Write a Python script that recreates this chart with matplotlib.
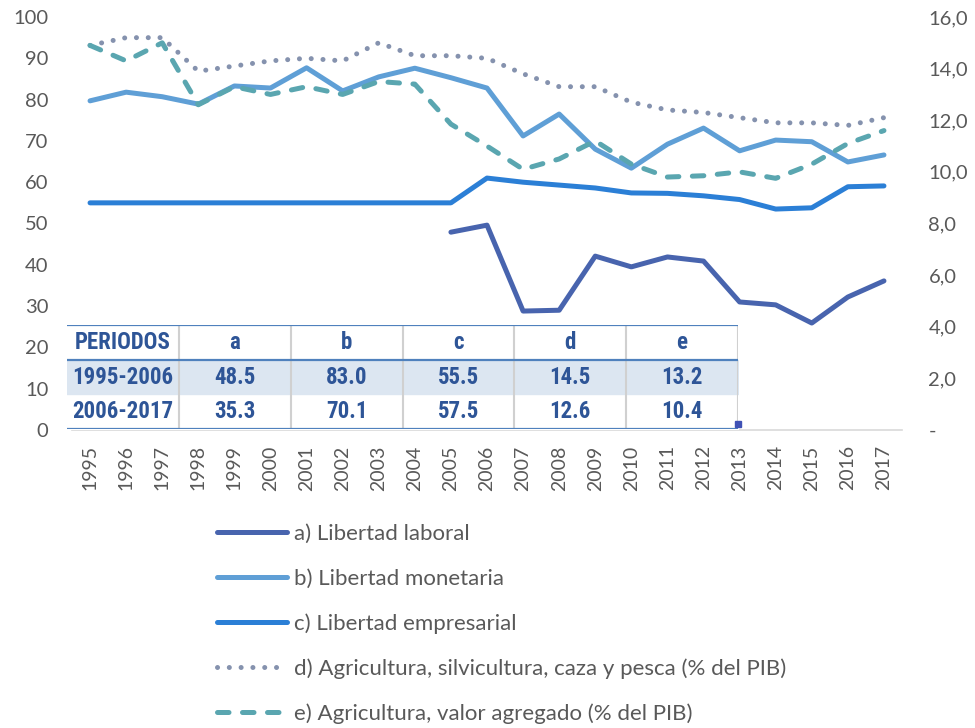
import numpy as np
import matplotlib
matplotlib.use("Agg")
import matplotlib.pyplot as plt
from matplotlib.lines import Line2D
from matplotlib.ticker import FuncFormatter

# years on the x axis
years = [str(y) for y in range(1995, 2018)]

# left axis series (index 0-100)
libertad_laboral = [None, None, None, None, None, None, None, None, None, None,
                    47.9, 49.6, 28.8, 29.0, 42.1, 39.5, 41.9, 40.9, 31.0, 30.3, 25.9, 32.2, 36.1]
libertad_monetaria = [79.7, 81.8, 80.7, 78.9, 83.3, 82.8, 87.7, 82.1, 85.5, 87.6,
                      85.3, 82.8, 71.2, 76.5, 68.0, 63.4, 69.2, 73.1, 67.6, 70.2, 69.8, 64.9, 66.6]
libertad_empresarial = [55.0, 55.0, 55.0, 55.0, 55.0, 55.0, 55.0, 55.0, 55.0, 55.0,
                        55.0, 61.0, 60.0, 59.3, 58.6, 57.4, 57.3, 56.7, 55.8, 53.5, 53.8, 58.9, 59.1]

# right axis series (% del PIB)
agri_silvi = [14.9, 15.2, 15.2, 13.9, 14.1, 14.3, 14.4, 14.3, 15.0, 14.5,
              14.5, 14.4, 13.8, 13.3, 13.3, 12.7, 12.4, 12.3, 12.1, 11.9, 11.9, 11.8, 12.1]
agri_valor = [14.9, 14.3, 15.0, 12.6, 13.3, 13.0, 13.3, 13.0, 13.5, 13.4,
              11.85, 11.0, 10.1, 10.5, 11.2, 10.3, 9.8, 9.85, 10.0, 9.75, 10.3, 11.1, 11.6]

labels = ["a) Libertad laboral", "b) Libertad monetaria", "c) Libertad empresarial",
          "d) Agricultura, silvicultura, caza y pesca (% del PIB)",
          "e) Agricultura, valor agregado (% del PIB)"]

# summary table
table_header = ["PERIODOS", "a", "b", "c", "d", "e"]
table_rows = [["1995-2006", "48.5", "83.0", "55.5", "14.5", "13.2"],
              ["2006-2017", "35.3", "70.1", "57.5", "12.6", "10.4"]]

c_a = "#4864AE"
c_b = "#5F9FD6"
c_c = "#2B7FD6"
c_d = "#8592AE"
c_e = "#5AA6B0"
grey_txt = "#595959"
tab_txt = "#2E5597"

plt.rcParams['font.family'] = ['Lato', 'DejaVu Sans']

W, H = 975, 728
fig = plt.figure(figsize=(W / 100, H / 100), dpi=100)
ax = fig.add_axes([72 / W, 1 - 430 / H, (902 - 72) / W, (430 - 17) / H])
ax2 = ax.twinx()

x = np.arange(len(years))
to_arr = lambda v: np.array([np.nan if i is None else i for i in v], dtype=float)

lw = 3.6
dots = (0, (0.01, 2.35))
dashes = (0, (2.3, 2.7))
kw = dict(lw=lw, solid_capstyle='round', solid_joinstyle='round')
ax.plot(x, to_arr(libertad_laboral), color=c_a, **kw)
ax.plot(x, to_arr(libertad_monetaria), color=c_b, **kw)
ax.plot(x, to_arr(libertad_empresarial), color=c_c, **kw)
ax2.plot(x, to_arr(agri_silvi), color=c_d, lw=lw, linestyle=dots, dash_capstyle='round')
ax2.plot(x, to_arr(agri_valor), color=c_e, lw=lw, linestyle=dashes, dash_capstyle='round')

ax.set_xlim(-0.5, len(years) - 0.5)
ax.set_ylim(0, 100)
ax.set_yticks(np.arange(0, 101, 10))
ax2.set_ylim(0, 16)
ax2.set_yticks(np.arange(0, 17, 2))
ax2.yaxis.set_major_formatter(FuncFormatter(
    lambda v, p: '-' if v == 0 else f"{v:.1f}".replace('.', ',')))
ax.set_xticks(x)
ax.set_xticklabels(years, rotation=90)

for a in (ax, ax2):
    for s in a.spines.values():
        s.set_visible(False)
ax.spines['bottom'].set_visible(True)
ax.spines['bottom'].set_color('#D9D9D9')
ax.spines['bottom'].set_linewidth(1.2)
ax.tick_params(axis='y', length=0, pad=17, labelsize=14.5, labelcolor=grey_txt)
ax.tick_params(axis='x', length=0, pad=11, labelsize=14, labelcolor=grey_txt)
ax2.tick_params(axis='y', length=0, pad=19, labelsize=14.5, labelcolor=grey_txt)

# table overlay
tx0, tx1, ty0, ty1 = 67, 738, 325, 429
tab = fig.add_axes([tx0 / W, 1 - ty1 / H, (tx1 - tx0) / W, (ty1 - ty0) / H])
tab.set_xlim(0, 6)
tab.set_ylim(0, 3)
tab.axis('off')
tab.fill_between([0, 6], 0, 3, color='white', zorder=0)
tab.fill_between([0, 6], 1, 2, color='#DCE6F1', zorder=1)
for cx in range(1, 7):
    tab.plot([cx, cx], [0, 3], color='#D0D0D0', lw=1.5, zorder=2)
for cy in (0, 2, 3):
    tab.plot([0, 6], [cy, cy], color='#4F81BD', lw=1.6, zorder=3)
tab.plot([6], [0.13], marker='s', ms=5, color='#3F51B5', zorder=4, clip_on=False)
tfont = dict(family=['Roboto Condensed', 'Liberation Sans', 'DejaVu Sans'],
             weight='bold', color=tab_txt, fontsize=16.5, ha='center', va='center')
for j, h in enumerate(table_header):
    tab.text(j + 0.5, 2.5, h, **tfont)
for i, row in enumerate(table_rows):
    for j, v in enumerate(row):
        tab.text(j + 0.5, 1.5 - i, v, **tfont)

# legend
handles = [Line2D([], [], color=c_a, lw=lw, solid_capstyle='round'),
           Line2D([], [], color=c_b, lw=lw, solid_capstyle='round'),
           Line2D([], [], color=c_c, lw=lw, solid_capstyle='round'),
           Line2D([], [], color=c_d, lw=lw, linestyle=dots, dash_capstyle='round'),
           Line2D([], [], color=c_e, lw=lw, linestyle=dashes, dash_capstyle='round')]
leg = fig.legend(handles, labels, loc='upper left', bbox_to_anchor=(206 / W, 1 - 513 / H),
                 frameon=False, fontsize=16, handlelength=3.15, handletextpad=0.32,
                 labelspacing=1.1, borderpad=0)
for t in leg.get_texts():
    t.set_color(grey_txt)

fig.savefig("out.png", dpi=100)
